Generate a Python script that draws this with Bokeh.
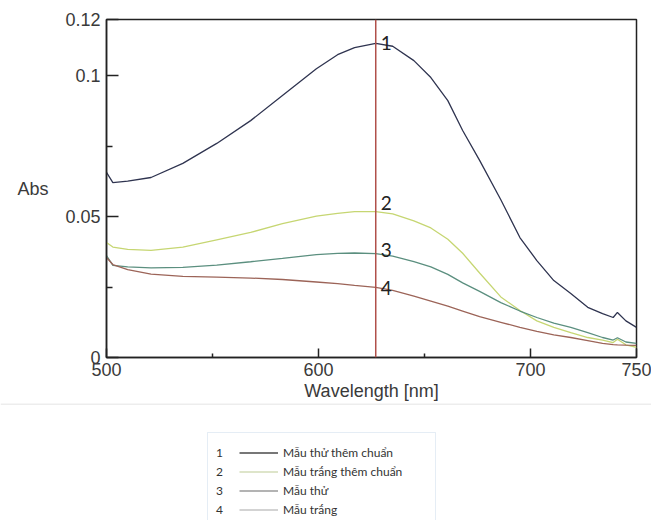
from bokeh.plotting import figure
from bokeh.models import (Range1d, FixedTicker, Span, Legend, LegendItem,
                          BoxAnnotation)
from bokeh.layouts import column
from bokeh.embed import file_html
from bokeh.resources import INLINE
from bokeh.core.properties import value

# ---------------- data ----------------
wavelength = [500, 503, 510, 521, 536, 552, 568, 583, 599, 609, 617, 627, 635,
              645, 653, 661, 668, 676, 686, 695, 703, 711, 719, 727, 734, 739,
              741, 745, 750]

abs_1 = [0.0657, 0.0621, 0.0626, 0.0639, 0.0689, 0.0760, 0.0841, 0.0930,
         0.1025, 0.1075, 0.1100, 0.1115, 0.1105, 0.1054, 0.0994, 0.0912,
         0.0806, 0.0700, 0.0560, 0.0426, 0.0344, 0.0273, 0.0227, 0.0178,
         0.0156, 0.0142, 0.0160, 0.0130, 0.0107]

abs_2 = [0.0408, 0.0392, 0.0384, 0.0380, 0.0392, 0.0418, 0.0444, 0.0475,
         0.0502, 0.0512, 0.0518, 0.0518, 0.0510, 0.0485, 0.0460, 0.0420,
         0.0370, 0.0300, 0.0215, 0.0167, 0.0130, 0.0107, 0.0088, 0.0071,
         0.0062, 0.0053, 0.0065, 0.0045, 0.0036]

abs_3 = [0.0362, 0.0327, 0.0322, 0.0318, 0.0320, 0.0328, 0.0340, 0.0352,
         0.0365, 0.0370, 0.0371, 0.0369, 0.0360, 0.0340, 0.0322, 0.0295,
         0.0265, 0.0235, 0.0195, 0.0165, 0.0142, 0.0122, 0.0107, 0.0088,
         0.0071, 0.0062, 0.0070, 0.0055, 0.0050]

abs_4 = [0.0355, 0.0330, 0.0312, 0.0296, 0.0288, 0.0285, 0.0282, 0.0277,
         0.0268, 0.0262, 0.0256, 0.0249, 0.0238, 0.0218, 0.0200, 0.0182,
         0.0165, 0.0145, 0.0125, 0.0107, 0.0093, 0.0080, 0.0071, 0.0060,
         0.0050, 0.0046, 0.0045, 0.0044, 0.0043]

series_numbers = ["1", "2", "3", "4"]
series_names = ["Mẫu thử thêm chuẩn", "Mẫu trắng thêm chuẩn", "Mẫu thử", "Mẫu trắng"]
curve_colors = ["#2f3450", "#c6d672", "#5b8f7f", "#9c6458"]
legend_colors = ["#4a4a4a", "#d3dcb8", "#9a9a9a", "#c4c4c4"]

peak_wl = 627
number_label_y = [0.1115, 0.0547, 0.0380, 0.0248]

x_ticks = [500, 600, 700, 750]
x_minor_ticks = [550, 650]
y_ticks = [0, 0.05, 0.1, 0.12]
y_minor_ticks = [0.025, 0.075]
y_tick_labels = {0: "0", 0.05: "0.05", 0.1: "0.1", 0.12: "0.12"}

# ---------------- main chart ----------------
FONT = "Liberation Sans"
TXT = "#3a3a3a"

p = figure(width=651, height=403, x_range=Range1d(500, 750),
           y_range=Range1d(0, 0.12), output_backend="svg",
           toolbar_location=None, min_border_left=106, min_border_right=15,
           min_border_top=19, min_border_bottom=46)
p.frame_align = False
p.grid.visible = False
p.outline_line_color = "#222222"
p.outline_line_width = 1.5
p.background_fill_color = "white"
p.border_fill_color = "white"

for ax in (p.xaxis[0], p.yaxis[0]):
    ax.axis_line_color = "#222222"
    ax.axis_line_width = 1.5
    ax.major_tick_line_color = "#222222"
    ax.major_tick_line_width = 1.5
    ax.minor_tick_line_color = "#222222"
    ax.minor_tick_line_width = 1.5
    ax.major_tick_out = 0
    ax.minor_tick_out = 0
    ax.major_label_text_font = FONT
    ax.major_label_text_font_size = "18px"
    ax.major_label_text_color = TXT
    ax.axis_label_text_font = FONT
    ax.axis_label_text_font_size = "18px"
    ax.axis_label_text_font_style = "normal"
    ax.axis_label_text_color = TXT

p.xaxis.ticker = FixedTicker(ticks=x_ticks, minor_ticks=x_minor_ticks)
p.xaxis.major_tick_in = 9
p.xaxis.minor_tick_in = 4
p.xaxis.major_label_standoff = 5
p.xaxis.axis_label = "Wavelength [nm]"
p.xaxis.axis_label_standoff = 2

p.yaxis.ticker = FixedTicker(ticks=y_ticks, minor_ticks=y_minor_ticks)
p.yaxis.major_label_overrides = y_tick_labels
p.yaxis.major_tick_in = 12
p.yaxis.minor_tick_in = 6
p.yaxis.major_label_standoff = 6
p.yaxis.axis_label = "Abs"
p.yaxis.axis_label_orientation = "horizontal"
p.yaxis.axis_label_standoff = 14

series = [abs_1, abs_2, abs_3, abs_4]
for ys, col in zip(series, curve_colors):
    p.line(x=wavelength, y=ys, line_color=col, line_width=1.3)

p.add_layout(Span(location=peak_wl, dimension="height",
                  line_color="#b0504a", line_width=1.5))

p.text(x=[peak_wl] * len(series_numbers), y=number_label_y, text=series_numbers,
       text_font=value("Lato"), text_font_size="19px", text_color="#222222",
       text_baseline="alphabetic", text_align="left", x_offset=5)

# ---------------- legend panel ----------------
LH = 117
q = figure(width=651, height=LH, x_range=Range1d(0, 651),
           y_range=Range1d(LH, 0), output_backend="svg",
           toolbar_location=None, min_border=0,
           x_axis_location=None, y_axis_location=None)
q.frame_align = False
q.grid.visible = False
q.outline_line_color = None
q.border_fill_color = "white"
q.background_fill_color = "white"

q.add_layout(Span(location=0.5, dimension="width", line_color="#dcdcdc",
                  line_width=1))
q.add_layout(BoxAnnotation(left=207, right=435, top=29, bottom=400,
                           fill_alpha=0, line_color="#a9c3dd", line_width=1))

num_r = [q.line(x=[0], y=[0], line_alpha=0) for _ in series_numbers]
line_r = [q.line(x=[0], y=[0], line_color=c, line_width=1.5) for c in legend_colors]

common = dict(padding=0, margin=0, border_line_color=None,
              background_fill_alpha=0, label_text_font="Lato",
              label_text_font_size="12px", label_text_color="#333333",
              label_height=15, glyph_height=15, spacing=4)

legA = Legend(items=[LegendItem(label=n, renderers=[r])
                     for n, r in zip(series_numbers, num_r)],
              location=(216, 3.5), glyph_width=0, label_standoff=0, **common)
legB = Legend(items=[LegendItem(label=t, renderers=[r])
                     for t, r in zip(series_names, line_r)],
              location=(239, 3.5), glyph_width=39, label_standoff=5, **common)
q.add_layout(legA)
q.add_layout(legB)

layout = column(p, q, spacing=0)
open("out.html", "w").write(file_html(layout, INLINE))
